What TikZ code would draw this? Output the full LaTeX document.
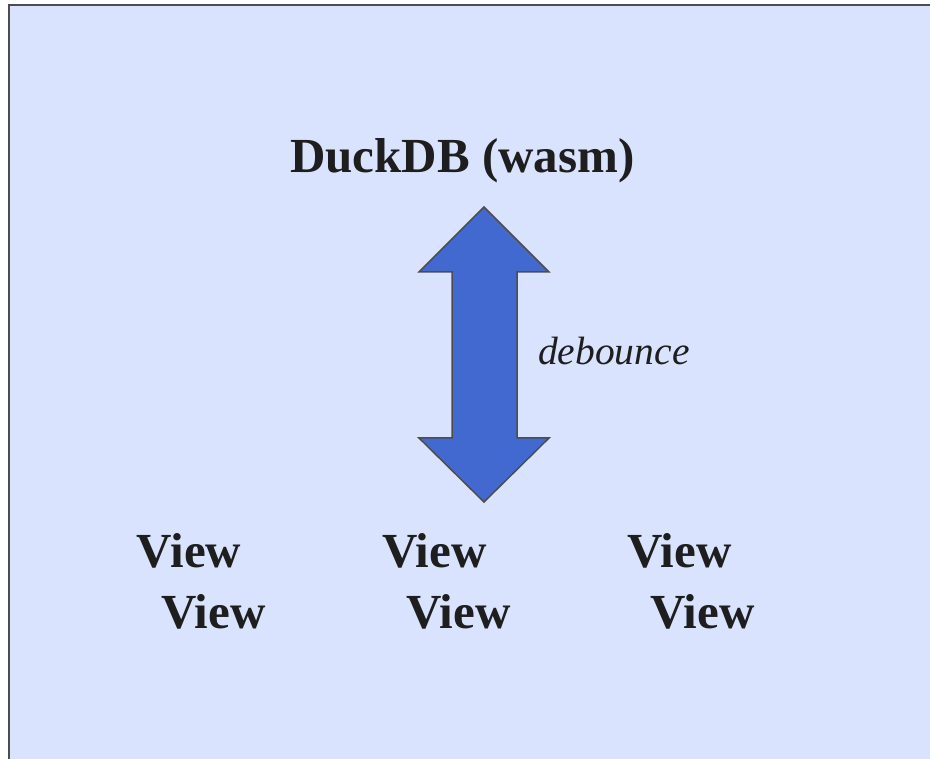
\documentclass[tikz,border=0pt]{standalone}
\usepackage{fontspec}
\setmainfont{Liberation Serif}
\definecolor{bgblue}{HTML}{DAE3FE}
\definecolor{framegray}{HTML}{4D4D4D}
\definecolor{arrowblue}{HTML}{4169CF}
\definecolor{textdark}{HTML}{1E1E1E}
\tikzset{
  title/.style={inner sep=0pt, anchor=base, text=textdark, font=\fontsize{49}{58}\selectfont\bfseries},
  view/.style={inner sep=0pt, anchor=base, text=textdark, font=\fontsize{49}{58}\selectfont\bfseries},
  lbl/.style={inner sep=0pt, anchor=base west, text=textdark, font=\fontsize{39.5}{47}\selectfont\itshape},
  bigarrow/.style={fill=arrowblue, draw=framegray, line width=1.5pt, line join=miter}
}
\begin{document}
\begin{tikzpicture}[x=1pt,y=-1pt]
\useasboundingbox (0,0) rectangle (930,759);
\fill[bgblue] (9,5) rectangle (940,770);
\draw[framegray, line width=2pt] (940,5) -- (9,5) -- (9,770);
\node[title] (duck) at (462.5,173) {DuckDB (wasm)};
\draw[bigarrow] (484,207) -- (419,272) -- (452,272) -- (452,438) -- (419,438) -- (484,502) -- (549,438) -- (517,438) -- (517,272) -- (549,272) -- cycle;
\coordinate (arrowmid) at (517,355);
\node[lbl] (deb) at (538,365) {debounce};
\node[view] (v1) at (189,567) {View};
\node[view] (v2) at (434.5,567) {View};
\node[view] (v3) at (679.5,567) {View};
\node[view] (v4) at (213.5,628) {View};
\node[view] (v5) at (458.5,628) {View};
\node[view] (v6) at (702.5,628) {View};
\end{tikzpicture}
\end{document}
